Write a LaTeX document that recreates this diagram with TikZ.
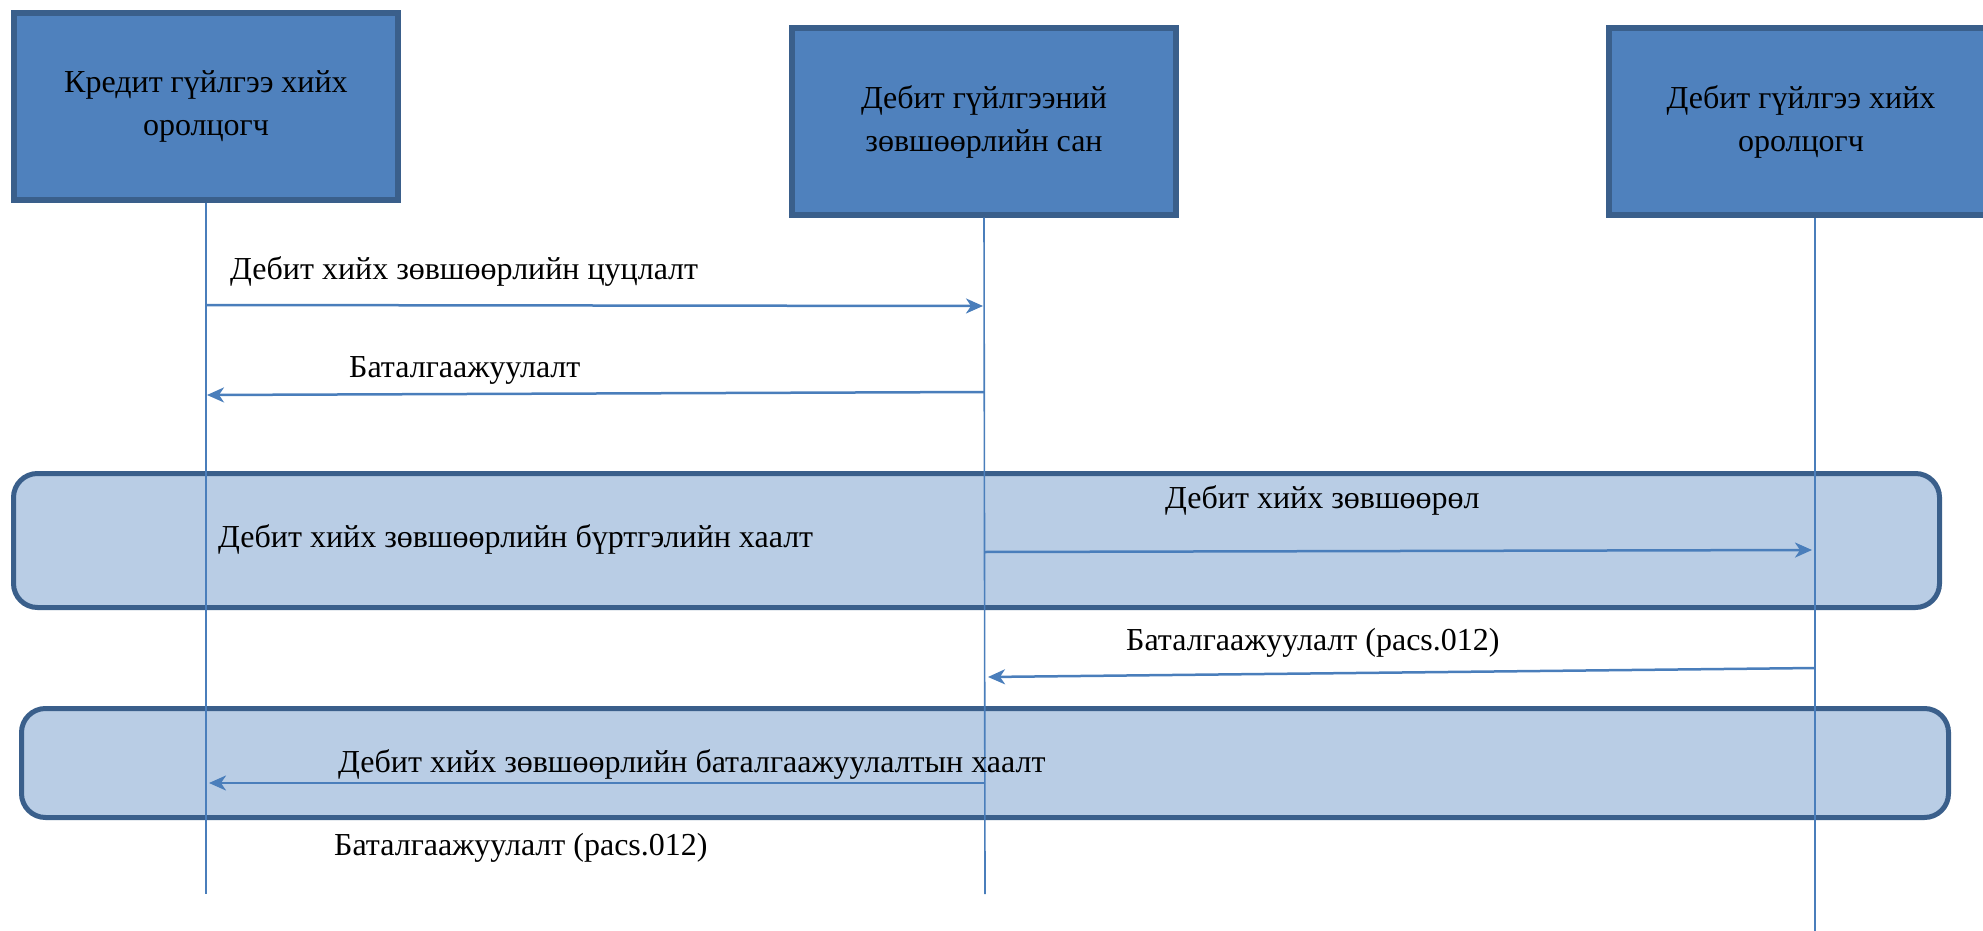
\documentclass[tikz,border=0pt]{standalone}
\usepackage{fontspec}
\setmainfont{Liberation Serif}
\usetikzlibrary{arrows.meta}
\definecolor{boxfill}{HTML}{4F81BD}
\definecolor{boxedge}{HTML}{3A5F8B}
\definecolor{bandfill}{HTML}{B9CDE5}
\definecolor{linecol}{HTML}{4A7EBB}
\begin{document}
\begin{tikzpicture}[x=1pt,y=-1pt,
 actor/.style={draw=boxedge, fill=boxfill, line width=6pt, minimum width=384pt, minimum height=186pt, align=center, font=\fontsize{32}{43}\selectfont, inner sep=0pt},
 band/.style={draw=boxedge, fill=bandfill, line width=5pt, rounded corners=24pt, inner sep=0pt},
 life/.style={draw=linecol, line width=1.6pt},
 msg/.style={draw=linecol, line width=2.5pt, -{Stealth[length=17pt,width=15pt,inset=5pt]}},
 lbl/.style={font=\fontsize{32}{38}\selectfont, anchor=west, inner sep=0pt, text height=0.68em, text depth=0.2em}]
\useasboundingbox (0,0) rectangle (1983,931);
\clip (0,0) rectangle (1983,931);

% bands
\node[band, minimum width=1926pt, minimum height=134pt] (band1) at (976.5,540.5) {};
\node[band, minimum width=1927pt, minimum height=109pt] (band2) at (985,763) {};

% actors
\node[actor] (box1) at (206,106.5) {\rule{0pt}{8pt}Кредит гүйлгээ хийх\\оролцогч};
\node[actor] (box2) at (984,121.5) {Дебит гүйлгээний\\зөвшөөрлийн сан};
\node[actor] (box3) at (1801,121.5) {Дебит гүйлгээ хийх\\оролцогч};

% lifeline ends
\coordinate (l1end) at (206,894);
\coordinate (l2end) at (985,894);
\coordinate (l3top) at (1815,218);
\coordinate (l3end) at (1815,931);
\draw[life] (box1.south) -- (l1end);
\draw[life] (box2.south) -- (l2end);
\draw[life] (l3top) -- (l3end);

% message points
\coordinate (m1s) at (206,305);  \coordinate (m1e) at (983,306);
\coordinate (m2s) at (984,392);  \coordinate (m2e) at (207,395);
\coordinate (m3s) at (984,552);  \coordinate (m3e) at (1812,550);
\coordinate (m4s) at (1815,668); \coordinate (m4e) at (988,677);
\coordinate (m5s) at (985,783);  \coordinate (m5e) at (209,783);

\draw[msg] (m1s) -- (m1e);
\draw[msg] (m2s) -- (m2e);
\draw[msg] (m3s) -- (m3e);
\draw[msg] (m4s) -- (m4e);
\draw[msg] (m5s) -- (m5e);

% labels
\node[lbl] (t1) at (230,277) {Дебит хийх зөвшөөрлийн цуцлалт};
\node[lbl] (t2) at (349,375) {Баталгаажуулалт};
\node[lbl] (t3) at (218,545) {Дебит хийх зөвшөөрлийн бүртгэлийн хаалт};
\node[lbl] (t4) at (1165,506) {Дебит хийх зөвшөөрөл};
\node[lbl] (t5) at (1126,648) {Баталгаажуулалт (pacs.012)};
\node[lbl] (t6) at (338,770) {Дебит хийх зөвшөөрлийн баталгаажуулалтын хаалт};
\node[lbl] (t7) at (334,853) {Баталгаажуулалт (pacs.012)};
\end{tikzpicture}
\end{document}
